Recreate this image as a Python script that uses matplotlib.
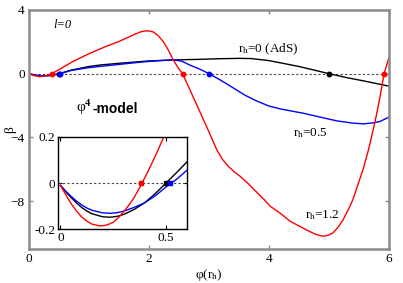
import matplotlib
matplotlib.use("Agg")
from matplotlib import pyplot as plt

plt.rcParams['font.family'] = ['Liberation Serif', 'DejaVu Serif']
plt.rcParams['mathtext.fontset'] = 'custom'
plt.rcParams['mathtext.rm'] = 'Liberation Serif'
plt.rcParams['mathtext.it'] = 'Liberation Serif:italic'
plt.rcParams['mathtext.bf'] = 'Liberation Serif:bold'

# rh = 0 (AdS)
phi_ads = [0, 0.1, 0.23, 0.35, 0.5, 0.7, 1.0, 1.2, 1.5, 2.0, 2.5, 2.85, 3.2, 3.5,
           3.7, 4.0, 4.3, 4.5, 4.75, 5.0, 5.3, 5.6, 6.0]
beta_ads = [0, -0.1, -0.15, -0.12, 0, 0.22, 0.45, 0.55, 0.65, 0.8, 0.87, 0.9, 0.94,
            0.96, 0.95, 0.82, 0.6, 0.45, 0.23, 0, -0.25, -0.47, -0.78]

# rh = 0.5
phi_05 = [0, 0.1, 0.23, 0.35, 0.52, 0.7, 1.0, 1.2, 1.5, 1.85, 2.1, 2.4, 2.55, 2.68,
          2.85, 3.0, 3.2, 3.4, 3.6, 3.8, 4.0, 4.2, 4.57, 5.13, 5.4, 5.57, 5.75, 5.85, 6.0]
beta_05 = [0, -0.09, -0.13, -0.11, 0, 0.2, 0.38, 0.46, 0.58, 0.72, 0.8, 0.87, 0.78,
           0.54, 0.28, 0, -0.42, -0.88, -1.35, -1.72, -2.03, -2.22, -2.48, -2.96,
           -3.1, -3.15, -3.08, -3.0, -2.73]

# rh = 1.2
phi_12 = [0, 0.08, 0.18, 0.28, 0.38, 0.52, 0.74, 1.0, 1.29, 1.5, 1.68, 1.78, 1.86,
          1.93, 2.0, 2.07, 2.15, 2.24, 2.32, 2.4, 2.48, 2.56, 2.7, 2.85, 3.0, 3.13,
          3.22, 3.32, 3.42, 3.52, 3.66, 3.8, 3.92, 4.02, 4.18, 4.35, 4.63, 4.78, 4.9,
          5.0, 5.07, 5.16, 5.24, 5.32, 5.4, 5.48, 5.57, 5.66, 5.77, 5.85, 5.92, 6.0]
beta_12 = [0, -0.12, -0.19, -0.12, 0, 0.3, 0.78, 1.25, 1.72, 2.02, 2.33, 2.5, 2.62,
           2.68, 2.68, 2.62, 2.4, 2.0, 1.5, 0.9, 0.4, 0, -1.16, -2.4, -3.65, -4.77,
           -5.35, -5.8, -6.15, -6.44, -6.92, -7.45, -7.9, -8.31, -8.73, -9.25,
           -9.81, -10.08, -10.2, -10.12, -9.98, -9.6, -9.14, -8.55, -7.9, -7.0,
           -6.0, -4.77, -3.0, -1.5, 0, 1.0]

# zeros of beta
zeros_ads = [0.5, 5.0]
zeros_05 = [0.52, 3.0]
zeros_12 = [0.38, 2.56, 5.92]

# inset (small phi)
phi_in = [0, 0.025, 0.05, 0.075, 0.1, 0.125, 0.15, 0.2, 0.235, 0.27, 0.3, 0.35,
          0.4, 0.45, 0.5, 0.55, 0.6]
beta_in_ads = [-0.01, -0.037, -0.062, -0.085, -0.105, -0.121, -0.133, -0.146,
               -0.148, -0.144, -0.136, -0.114, -0.085, -0.045, 0, 0.045, 0.092]
beta_in_05 = [-0.01, -0.035, -0.057, -0.077, -0.094, -0.108, -0.118, -0.129,
              -0.131, -0.128, -0.122, -0.105, -0.085, -0.055, -0.017, 0.016, 0.056]
phi_in_12 = [0, 0.025, 0.05, 0.075, 0.1, 0.125, 0.15, 0.19, 0.22, 0.25, 0.275, 0.3,
             0.325, 0.35, 0.387, 0.42, 0.45, 0.49, 0.52]
beta_in_12 = [-0.01, -0.05, -0.088, -0.12, -0.146, -0.165, -0.178, -0.186, -0.182,
              -0.17, -0.15, -0.124, -0.095, -0.062, 0, 0.06, 0.118, 0.2, 0.26]

fig = plt.figure(figsize=(4.03, 2.83), dpi=100)
ax = fig.add_axes([0.072, 0.12, 0.893, 0.845])

grey = '#8c8c8c'
ax.plot([0, 6], [0, 0], color='#444444', lw=0.8, ls=(0, (2, 2)))
ax.plot(phi_ads, beta_ads, color='black', lw=1.0)
ax.plot(phi_05, beta_05, color='blue', lw=1.0)
ax.plot(phi_12, beta_12, color='red', lw=1.0)
ax.plot(zeros_ads, [0] * len(zeros_ads), 'o', color='black', ms=3.2)
ax.plot(zeros_05, [0] * len(zeros_05), 'o', color='blue', ms=3.2)
ax.plot(zeros_12, [0] * len(zeros_12), 'o', color='red', ms=3.2)

ax.set_xlim(0, 6)
ax.set_ylim(-11, 4)
ax.set_xticks([0, 2, 4, 6])
ax.set_yticks([4, 0, -4, -8])
for s in ax.spines.values():
    s.set_color(grey)
    s.set_linewidth(1.8)
ax.tick_params(direction='in', top=True, right=True, color=grey, width=1.0,
               length=3, labelsize=9.5, pad=3)
ax.set_xlabel(r'φ(r$_{\rm h}$)', fontsize=9.5, labelpad=1)
ax.set_ylabel('β', fontsize=9.5, labelpad=-4)

ax.text(0.4, 3.05, 'l=0', style='italic', fontsize=9, va='center')
ax.text(3.48, 1.5, r'r$_{\rm h}$=0 (AdS)', fontsize=9.5, va='center')
ax.text(4.4, -3.75, r'r$_{\rm h}$=0.5', fontsize=9.5, va='center')
ax.text(4.6, -8.85, r'r$_{\rm h}$=1.2', fontsize=9.5, va='center')
ax.text(0.78, -2.15, r'φ$^{\mathbf{4}}$', fontsize=11, va='center')
ax.text(1.06, -2.2, '-model', fontsize=10, fontweight='bold',
        family=['Liberation Sans', 'DejaVu Sans'], va='center')

ins = fig.add_axes([0.1447, 0.19, 0.3193, 0.326])
ins.plot([-0.01, 0.6], [0, 0], color='#444444', lw=0.8, ls=(0, (2, 2)))
ins.plot(phi_in, beta_in_ads, color='black', lw=1.0)
ins.plot(phi_in, beta_in_05, color='blue', lw=1.0)
ins.plot(phi_in_12, beta_in_12, color='red', lw=1.0)
ins.plot([zeros_12[0]], [0], 's', color='red', ms=3)
ins.plot([zeros_ads[0]], [0], 's', color='black', ms=3)
ins.plot([zeros_05[0]], [0], 's', color='blue', ms=3)
ins.set_xlim(-0.01, 0.6)
ins.set_ylim(-0.2, 0.2)
ins.set_xticks([0, 0.5])
ins.set_xticklabels(['0', '0.5'])
ins.set_yticks([-0.2, 0, 0.2])
ins.set_yticklabels(['-0.2', '0', '0.2'])
for s in ins.spines.values():
    s.set_linewidth(1.0)
ins.tick_params(direction='in', top=True, right=True, length=3, labelsize=9.5, pad=2)

fig.savefig('out.png', dpi=100)
